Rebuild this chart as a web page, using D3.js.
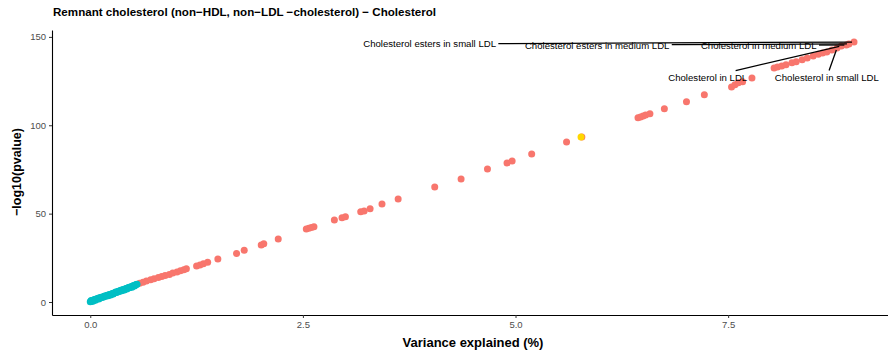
<!DOCTYPE html>
<html><head><meta charset="utf-8">
<script src="https://cdn.jsdelivr.net/npm/d3@7"></script>
<style>body{margin:0;background:#fff}svg{display:block;font-family:"Liberation Sans",Arial,Helvetica,sans-serif}</style>
</head><body><svg id="c" width="888" height="357"></svg>
<script>
const title = "Remnant cholesterol (non\u2212HDL, non\u2212LDL \u2212cholesterol) \u2212 Cholesterol";
const xLabel = "Variance explained (%)";
const yLabel = "\u2212log10(pvalue)";
const xTicks = [0, 2.5, 5, 7.5];
const yTicks = [0, 50, 100, 150];

// non-significant (teal)
const nsX = [0.00,0.01,0.01,0.02,0.03,0.03,0.04,0.05,0.06,0.06,0.07,0.08,0.09,0.10,0.10,0.11,0.12,0.13,0.14,0.15,0.16,0.17,0.18,0.19,0.20,0.21,0.22,0.23,0.24,0.25,0.26,0.27,0.28,0.29,0.30,0.31,0.32,0.33,0.34,0.35,0.36,0.37,0.38,0.39,0.40,0.41,0.42,0.43,0.44,0.45,0.46,0.47,0.48,0.49,0.50,0.51,0.52,0.53,0.54,0.55];
const nsY = [0.1,0.4,0.9,0.6,1.0,0.5,1.2,1.3,1.0,1.6,1.5,1.8,2.0,1.7,2.3,2.1,2.5,2.6,2.9,2.7,3.1,3.4,3.2,3.6,3.8,3.5,4.1,4.3,4.0,4.6,4.8,4.5,5.1,5.3,5.6,5.4,5.8,6.1,5.9,6.4,6.6,6.3,6.9,7.1,6.8,7.4,7.6,7.3,7.9,8.2,8.0,8.5,8.7,8.4,9.0,9.3,9.1,9.6,9.9,10.1];

// significant (red)
const sigX = [0.58,0.62,0.66,0.71,0.75,0.80,0.84,0.88,0.93,0.97,1.02,1.06,1.10,1.13,1.25,1.29,1.33,1.38,1.50,1.72,1.81,2.01,2.04,2.21,2.54,2.57,2.60,2.63,2.87,2.96,3.00,3.18,3.22,3.29,3.43,3.62,4.05,4.36,4.67,4.90,4.96,5.19,5.60,5.78,6.44,6.47,6.50,6.53,6.58,6.75,7.01,7.22,7.54,7.58,7.62,7.67,7.78,8.04,8.08,8.13,8.18,8.25,8.30,8.37,8.43,8.50,8.56,8.61,8.66,8.72,8.78,8.83,8.89,8.92,8.98];
const sigY = [10.6,11.2,11.9,12.6,13.1,13.8,14.4,15.0,15.6,16.4,17.0,17.7,18.3,18.8,20.4,21.0,21.6,22.5,24.3,27.5,29.3,32.3,32.9,35.7,41.3,41.7,42.1,42.6,46.4,47.7,48.2,51.0,51.5,52.7,55.5,58.3,65.1,69.6,75.3,78.7,79.8,83.8,90.6,93.4,104.2,104.7,105.2,105.8,106.5,109.3,113.3,117.2,121.7,122.9,124.0,124.6,126.8,132.4,133.0,133.6,134.3,135.3,136.0,137.0,138.1,139.2,140.2,140.9,141.5,142.6,143.7,144.9,145.4,146.0,147.1];

// highlighted trait (yellow)
const hlX = [5.77];
const hlY = [93.4];

// labelled traits
const labNames = ["Cholesterol esters in small LDL","Cholesterol esters in medium LDL","Cholesterol in medium LDL","Cholesterol in LDL","Cholesterol in small LDL"];
const labPtX = [8.98, 8.92, 8.89, 8.83, 8.78];
const labPtY = [147.1, 146.0, 145.4, 144.9, 143.7];
const labTxtX = [3.99, 5.96, 7.86, 7.26, 8.66];
const labTxtY = [146.0, 145.4, 145.4, 127.3, 127.3];

const svg = d3.select("#c");
const x = d3.scaleLinear().domain([-0.45, 9.45]).range([52, 894]);
const y = d3.scaleLinear().domain([-7.35, 153.9]).range([315, 30]);

// points
const pts = svg.append("g");
function draw(xs, ys, col) {
  pts.selectAll(null).data(xs.map((v,i)=>[v, ys[i]])).enter().append("circle")
    .attr("cx", d=>x(d[0])).attr("cy", d=>y(d[1])).attr("r", 3.5).attr("fill", col);
}
draw(sigX, sigY, "#F8766D");
draw(nsX, nsY, "#00BFC4");
draw(hlX, hlY, "#FFD700");

// axes
const fs = 9.5;
const xa = svg.append("g").attr("transform", "translate(0,315)")
  .call(d3.axisBottom(x).tickValues(xTicks).tickFormat(d3.format(".1f")).tickSize(3).tickPadding(3).tickSizeOuter(0));
const ya = svg.append("g").attr("transform", "translate(52,0)")
  .call(d3.axisLeft(y).tickValues(yTicks).tickFormat(d3.format("d")).tickSize(3).tickPadding(3).tickSizeOuter(0));
[xa, ya].forEach(a => {
  a.select(".domain").attr("stroke", "#000").attr("stroke-width", 1.1);
  a.selectAll(".tick line").attr("stroke", "#333").attr("stroke-width", 1);
  a.selectAll(".tick text").attr("fill", "#4D4D4D").style("font-size", fs + "px").style("font-family", "Liberation Sans, Arial, sans-serif");
});

// labels
const lg = svg.append("g");
labNames.forEach((name, i) => {
  const cx = x(labTxtX[i]), cy = y(labTxtY[i]);
  const t = lg.append("text").attr("x", cx).attr("y", cy).attr("text-anchor", "middle")
    .attr("dominant-baseline", "central").style("font-size", "9.6px").attr("fill", "#000").text(name);
  const bb = t.node().getBBox();
  const px = x(labPtX[i]), py = y(labPtY[i]);
  const hw = bb.width / 2 + 2, hh = bb.height / 2 + 1;
  const dx = px - cx, dy = py - cy;
  const s = Math.min(dx !== 0 ? hw / Math.abs(dx) : Infinity, dy !== 0 ? hh / Math.abs(dy) : Infinity);
  const sx = cx + dx * s, sy = cy + dy * s;
  const len = Math.hypot(px - sx, py - sy);
  const ex = px - (px - sx) / len * 2, ey = py - (py - sy) / len * 2;
  lg.append("line").attr("x1", sx).attr("y1", sy).attr("x2", ex).attr("y2", ey)
    .attr("stroke", "#000").attr("stroke-width", 1.3);
});

// titles
svg.append("text").attr("x", 53).attr("y", 16).style("font-size", "11.6px").style("font-weight", "bold").text(title);
svg.append("text").attr("x", 473).attr("y", 347).attr("text-anchor", "middle").style("font-size", "13px").style("font-weight", "bold").text(xLabel);
svg.append("text").attr("transform", "translate(21,172) rotate(-90)").attr("text-anchor", "middle").style("font-size", "12.5px").style("font-weight", "bold").text(yLabel);
</script></body></html>
